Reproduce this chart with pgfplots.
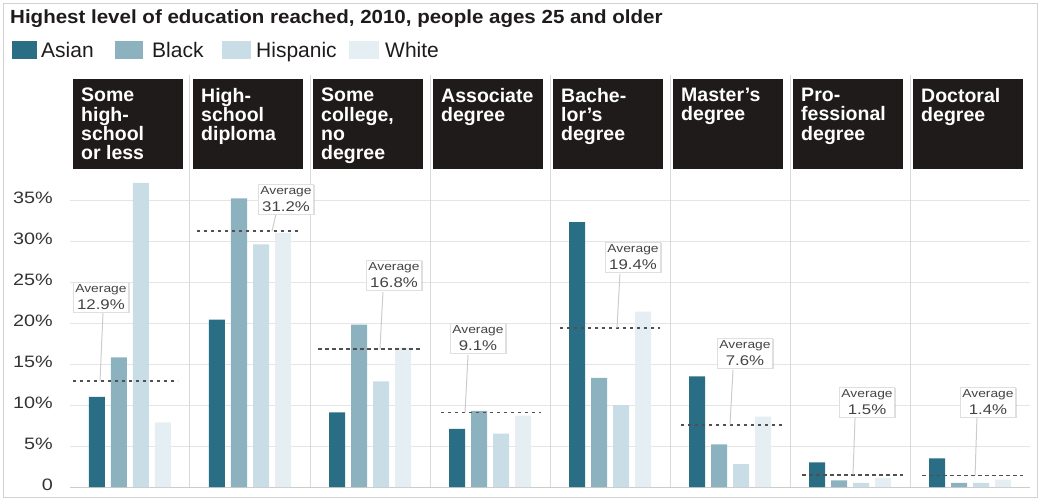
\documentclass[border=0pt]{standalone}
\usepackage{fontspec}
\setmainfont{Liberation Sans}
\newfontfamily\widefont[FakeStretch=1.2]{Liberation Sans}
\newfontfamily\titlefont[FakeStretch=1.08]{Liberation Sans}
\usepackage{pgfplots}
\pgfplotsset{compat=1.18}
\usetikzlibrary{shadows}
\definecolor{asian}{HTML}{2A6E85}
\definecolor{blackc}{HTML}{8CB2C0}
\definecolor{hisp}{HTML}{C8DDE5}
\definecolor{whitec}{HTML}{E5EFF3}
\definecolor{hdr}{HTML}{1F1B1B}
\definecolor{tickgray}{HTML}{333333}
\definecolor{avgtext}{HTML}{444444}
\definecolor{avgline}{HTML}{505050}
\tikzset{
  callout/.style={fill=white, draw=gray!25, line width=0.5bp,
    drop shadow={shadow xshift=1.2bp, shadow yshift=-1.2bp, opacity=0.25, fill=gray},
    align=center, inner xsep=2bp, inner ysep=2.5bp, minimum width=54bp, text=avgtext,
    font=\widefont\fontsize{14bp}{17bp}\selectfont},
  leader/.style={gray!40, line width=1bp},
  avg/.style={avgline, line width=1.6bp, dash pattern=on 3.5bp off 3.5bp},
  hdrtext/.style={anchor=north west, inner sep=0pt, align=left, text=white,
    font=\fontsize{19.5bp}{19.3bp}\selectfont\bfseries},
  legtext/.style={anchor=base west, inner sep=0pt, font=\fontsize{21bp}{23bp}\selectfont, text=hdr},
}
\newcommand{\avgtxt}[1]{{\fontsize{11.5bp}{12bp}\selectfont Average}\\{\fontsize{14bp}{17bp}\selectfont #1\%}}
\begin{document}
\begin{tikzpicture}
\begin{axis}[
  scale only axis, width=960bp, height=412bp,
  xmin=0, xmax=8, ymin=0, ymax=50.24,
  axis line style={draw=none}, tick style={draw=none},
  xtick=\empty,
  ytick={0,5,10,15,20,25,30,35},
  yticklabels={0,5\%,10\%,15\%,20\%,25\%,30\%,35\%},
  /pgf/number format/assume math mode=true,
  yticklabel style={font=\widefont\fontsize{16.5bp}{18bp}\selectfont, text=tickgray, anchor=east, inner sep=0pt, xshift=-17bp, yshift=2bp},
  ymajorgrids, grid style={gray!20, line width=1bp},
  ybar=6bp, bar width=16bp,
  clip=false,
]
% frame, title, legend (picture decorations, placed in axis units)
\coordinate (bbSW) at (axis cs:-0.58333,-1.58537);
\coordinate (bbNE) at (axis cs:8.09167,59.3902);
\draw[gray!35, line width=0.8bp] (axis cs:-0.5583,-1.2195) rectangle (axis cs:8.0583,59.02);
\node[anchor=base west, inner sep=0pt, font=\titlefont\fontsize{19bp}{21bp}\selectfont\bfseries, text=hdr] at (axis cs:-0.5,56.52)
  {Highest level of education reached, 2010, people ages 25 and older};
\fill[asian]  (axis cs:-0.4833,52.195) rectangle (axis cs:-0.275,54.39);
\node[legtext] at (axis cs:-0.2417,52.32) {Asian};
\fill[blackc] (axis cs:0.375,52.195) rectangle (axis cs:0.6083,54.39);
\node[legtext] at (axis cs:0.6833,52.32) {Black};
\fill[hisp]   (axis cs:1.2667,52.195) rectangle (axis cs:1.5083,54.39);
\node[legtext] at (axis cs:1.55,52.32) {Hispanic};
\fill[whitec] (axis cs:2.325,52.195) rectangle (axis cs:2.575,54.39);
\node[legtext] at (axis cs:2.625,52.32) {White};

% separators
\draw[gray!30, line width=1bp] (axis cs:1,0) -- (axis cs:1,50.24);
\draw[gray!30, line width=1bp] (axis cs:2,0) -- (axis cs:2,50.24);
\draw[gray!30, line width=1bp] (axis cs:3,0) -- (axis cs:3,50.24);
\draw[gray!30, line width=1bp] (axis cs:4,0) -- (axis cs:4,50.24);
\draw[gray!30, line width=1bp] (axis cs:5,0) -- (axis cs:5,50.24);
\draw[gray!30, line width=1bp] (axis cs:6,0) -- (axis cs:6,50.24);
\draw[gray!30, line width=1bp] (axis cs:7,0) -- (axis cs:7,50.24);
\draw[gray!40, line width=1bp] (axis cs:0,0) -- (axis cs:8,0);

\addplot[fill=asian, draw=none] coordinates {(0.5,11.0) (1.5,20.4) (2.5,9.1) (3.5,7.1) (4.5,32.3) (5.5,13.5) (6.5,3.0) (7.5,3.5)};
\addplot[fill=blackc, draw=none] coordinates {(0.5,15.8) (1.5,35.2) (2.5,19.8) (3.5,9.3) (4.5,13.3) (5.5,5.2) (6.5,0.8) (7.5,0.5)};
\addplot[fill=hisp, draw=none] coordinates {(0.5,37.1) (1.5,29.6) (2.5,12.9) (3.5,6.5) (4.5,10.0) (5.5,2.8) (6.5,0.5) (7.5,0.5)};
\addplot[fill=whitec, draw=none] coordinates {(0.5,7.9) (1.5,31.0) (2.5,17.0) (3.5,8.7) (4.5,21.4) (5.5,8.6) (6.5,1.1) (7.5,0.9)};

% headers
\fill[hdr] (axis cs:0.025,38.78) rectangle (axis cs:0.9417,49.76);
\fill[hdr] (axis cs:1.025,38.78) rectangle (axis cs:1.9417,49.76);
\fill[hdr] (axis cs:2.025,38.78) rectangle (axis cs:2.9417,49.76);
\fill[hdr] (axis cs:3.025,38.78) rectangle (axis cs:3.9417,49.76);
\fill[hdr] (axis cs:4.025,38.78) rectangle (axis cs:4.9417,49.76);
\fill[hdr] (axis cs:5.025,38.78) rectangle (axis cs:5.9417,49.76);
\fill[hdr] (axis cs:6.025,38.78) rectangle (axis cs:6.9417,49.76);
\fill[hdr] (axis cs:7.025,38.78) rectangle (axis cs:7.9417,49.76);
\node[hdrtext] at (axis cs:0.092,48.66) {Some\\high-\\school\\or less};
\node[hdrtext] at (axis cs:1.092,48.66) {High-\\school\\diploma};
\node[hdrtext] at (axis cs:2.092,48.66) {Some\\college,\\no\\degree};
\node[hdrtext] at (axis cs:3.092,48.66) {Associate\\degree};
\node[hdrtext] at (axis cs:4.092,48.66) {Bache-\\lor’s\\degree};
\node[hdrtext] at (axis cs:5.092,48.66) {Master’s\\degree};
\node[hdrtext] at (axis cs:6.092,48.66) {Pro-\\fessional\\degree};
\node[hdrtext] at (axis cs:7.092,48.66) {Doctoral\\degree};

% average lines
\draw[avg] (axis cs:0.025,12.9) -- (axis cs:0.9,12.9);
\draw[avg] (axis cs:1.058,31.2) -- (axis cs:1.9,31.2);
\draw[avg] (axis cs:2.067,16.8) -- (axis cs:2.917,16.8);
\draw[avg] (axis cs:3.09,9.1) -- (axis cs:3.925,9.1);
\draw[avg] (axis cs:4.083,19.4) -- (axis cs:4.917,19.4);
\draw[avg] (axis cs:5.09,7.6) -- (axis cs:5.933,7.6);
\draw[avg] (axis cs:6.1,1.5) -- (axis cs:6.942,1.5);
\draw[avg] (axis cs:7.1,1.4) -- (axis cs:7.942,1.4);

% leaders
\draw[leader] (axis cs:0.275,21.22) -- (axis cs:0.25,12.9);
\draw[leader] (axis cs:1.717,33.29) -- (axis cs:1.683,31.2);
\draw[leader] (axis cs:2.608,23.78) -- (axis cs:2.583,16.8);
\draw[leader] (axis cs:3.317,16.1) -- (axis cs:3.292,9.1);
\draw[leader] (axis cs:4.583,25.98) -- (axis cs:4.558,19.4);
\draw[leader] (axis cs:5.525,14.27) -- (axis cs:5.5,7.6);
\draw[leader] (axis cs:6.542,8.41) -- (axis cs:6.525,1.5);
\draw[leader] (axis cs:7.558,8.41) -- (axis cs:7.542,1.4);

% callouts
\node[callout] at (axis cs:0.258,23.17) {\avgtxt{12.9}};
\node[callout] at (axis cs:1.8,35.12) {\avgtxt{31.2}};
\node[callout] at (axis cs:2.7,25.85) {\avgtxt{16.8}};
\node[callout] at (axis cs:3.4,18.17) {\avgtxt{9.1}};
\node[callout] at (axis cs:4.692,28.05) {\avgtxt{19.4}};
\node[callout] at (axis cs:5.625,16.34) {\avgtxt{7.6}};
\node[callout] at (axis cs:6.642,10.37) {\avgtxt{1.5}};
\node[callout] at (axis cs:7.65,10.37) {\avgtxt{1.4}};
\end{axis}
\pgfresetboundingbox
\path[use as bounding box] (bbSW) rectangle (bbNE);
\end{tikzpicture}
\end{document}
